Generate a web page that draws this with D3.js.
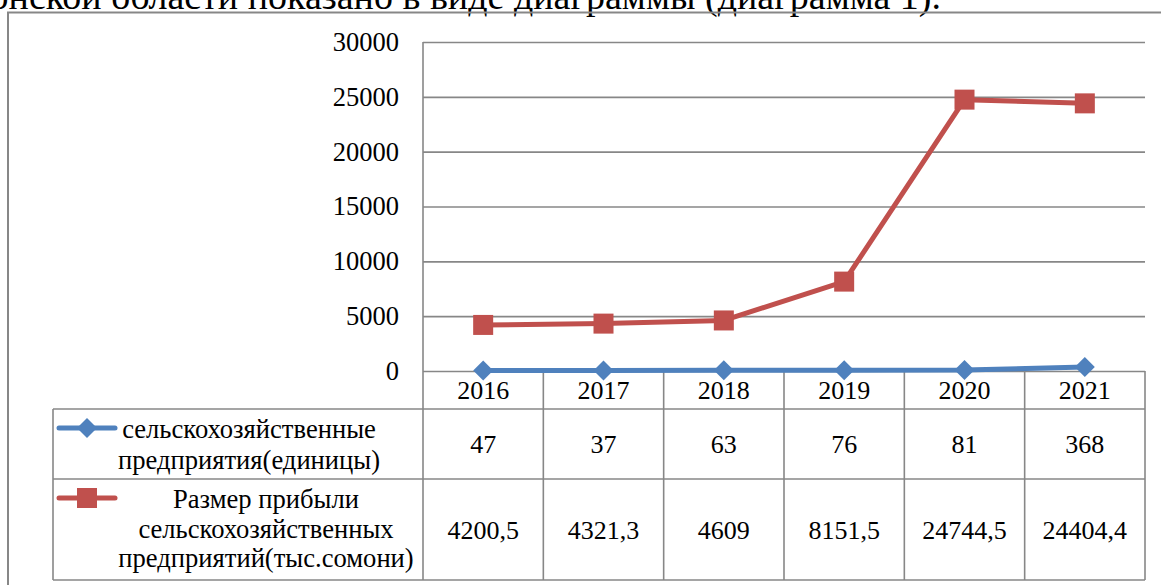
<!DOCTYPE html>
<html>
<head>
<meta charset="utf-8">
<script src="https://cdn.jsdelivr.net/npm/d3@7"></script>
<style>
  body { margin: 0; background: #fff; }
  text { font-family: 'Liberation Serif', 'DejaVu Serif', serif; }
</style>
</head>
<body>
<svg id="chart" width="1161" height="585"></svg>
<script>
// данные диаграммы
const years = ['2016', '2017', '2018', '2019', '2020', '2021'];
const enterprises = [47, 37, 63, 76, 81, 368];
const profit = [4200.5, 4321.3, 4609, 8151.5, 24744.5, 24404.4];
const yTicks = [0, 5000, 10000, 15000, 20000, 25000, 30000];
const seriesNames = [
  ['сельскохозяйственные', 'предприятия(единицы)'],
  ['Размер прибыли', 'сельскохозяйственных', 'предприятий(тыс.сомони)']
];

const blue = '#4f81bd', red = '#c0504d', grid = '#878787';
const serif = "'Liberation Serif', 'DejaVu Serif', serif";
const fmt = v => String(v).replace('.', ',');

const svg = d3.select('#chart');

// обрезанная строка текста сверху
svg.append('text').attr('x', 941).attr('y', 8.5).attr('text-anchor', 'end')
  .style('font-size', '38px').text('Хатлонской области показано в виде диаграммы (диаграмма 1).');

// рамка диаграммы
svg.append('path').attr('d', 'M8,585V12.5H1161').attr('fill', 'none')
  .attr('stroke', grid).attr('stroke-width', 2);

const plot = {left: 423, right: 1145, top: 42, bottom: 371};
const x = d3.scaleBand().domain(years).range([plot.left, plot.right]).padding(0);
const y = d3.scaleLinear().domain([0, 30000]).range([plot.bottom, plot.top]);
const cx = d => x(d) + x.bandwidth() / 2;

// ось Y и сетка
const yAxis = d3.axisLeft(y).tickValues(yTicks).tickFormat(d3.format('d'))
  .tickSize(-(plot.right - plot.left)).tickPadding(24);
const yG = svg.append('g').attr('transform', `translate(${plot.left},0)`).call(yAxis)
  .attr('font-family', serif).attr('font-size', 26.5);
yG.select('.domain').remove();
yG.selectAll('line').attr('stroke', grid).attr('stroke-width', 1.6);
yG.selectAll('text').attr('fill', '#000').attr('dy', '0.32em');

// таблица данных
const rows = {yearTop: plot.bottom, r1: 409, r2: 479, bottom: 580, legLeft: 53};
const tbl = svg.append('g').attr('stroke', grid).attr('stroke-width', 1.6).attr('fill', 'none');
tbl.append('line').attr('x1', plot.left).attr('x2', plot.left).attr('y1', plot.top).attr('y2', rows.bottom);
x.domain().forEach(d => {
  tbl.append('line').attr('x1', x(d) + x.bandwidth()).attr('x2', x(d) + x.bandwidth())
    .attr('y1', rows.yearTop).attr('y2', rows.bottom);
});
[rows.r1, rows.r2, rows.bottom].forEach(yy => {
  tbl.append('line').attr('x1', rows.legLeft).attr('x2', plot.right).attr('y1', yy).attr('y2', yy);
});
tbl.append('line').attr('x1', rows.legLeft).attr('x2', rows.legLeft).attr('y1', rows.r1).attr('y2', rows.bottom);

const txt = svg.append('g').style('font-size', '26px').attr('text-anchor', 'middle');
txt.selectAll('.yr').data(years).join('text').attr('class', 'yr')
  .attr('x', cx).attr('y', 399).text(d => d);
txt.selectAll('.v1').data(enterprises).join('text').attr('class', 'v1')
  .attr('x', (d, i) => cx(years[i])).attr('y', 453).text(fmt);
txt.selectAll('.v2').data(profit).join('text').attr('class', 'v2')
  .attr('x', (d, i) => cx(years[i])).attr('y', 539).text(fmt);

// легенда в таблице
const legend = [
  {names: seriesNames[0], color: blue, shape: 'diamond', my: 428, cxText: 249, base: [438, 469]},
  {names: seriesNames[1], color: red, shape: 'square', my: 498, cxText: 266, base: [508, 538, 567]}
];
const marker = (g, shape, color, px, py) => {
  if (shape === 'square') {
    g.append('rect').attr('x', px - 10).attr('y', py - 10).attr('width', 20).attr('height', 20).attr('fill', color);
  } else {
    g.append('path').attr('d', `M${px},${py - 10}L${px + 10},${py}L${px},${py + 10}L${px - 10},${py}Z`).attr('fill', color);
  }
};
legend.forEach(l => {
  const g = svg.append('g');
  g.append('line').attr('x1', 59).attr('x2', 115).attr('y1', l.my).attr('y2', l.my)
    .attr('stroke', l.color).attr('stroke-width', 5).attr('stroke-linecap', 'round');
  marker(g, l.shape, l.color, 87, l.my);
  l.names.forEach((n, i) => {
    g.append('text').attr('x', l.cxText).attr('y', l.base[i]).attr('text-anchor', 'middle')
      .style('font-size', '26.6px').text(n);
  });
});

// линии
const line = d3.line().x((d, i) => cx(years[i])).y(d => y(d));
[[profit, red, 'square'], [enterprises, blue, 'diamond']].forEach(([data, color, shape]) => {
  svg.append('path').datum(data).attr('d', line).attr('fill', 'none')
    .attr('stroke', color).attr('stroke-width', 5).attr('stroke-linejoin', 'round');
  const g = svg.append('g');
  data.forEach((d, i) => marker(g, shape, color, cx(years[i]), y(d)));
});
</script>
</body>
</html>
